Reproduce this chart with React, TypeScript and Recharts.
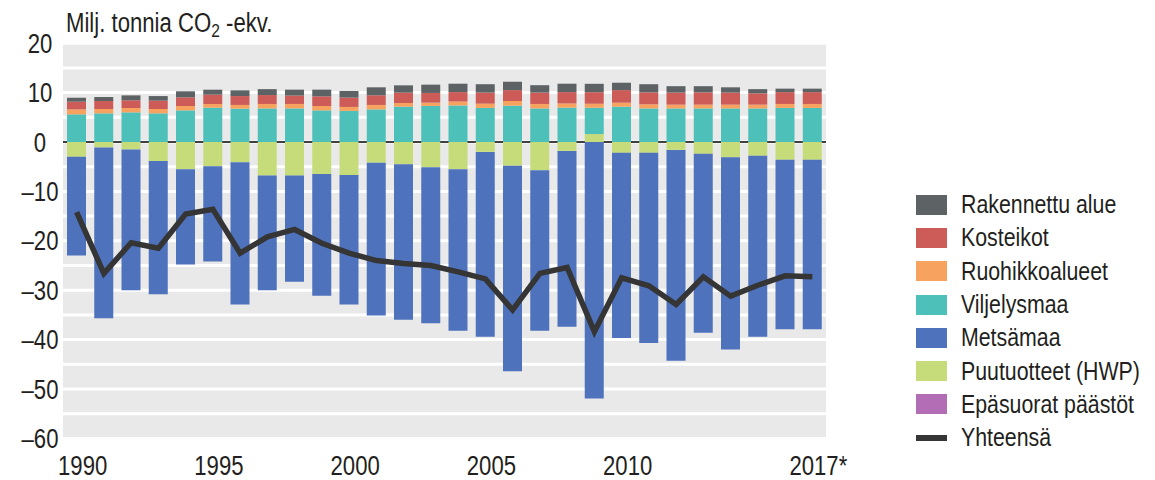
import React from "react";
import {
  ComposedChart,
  Bar,
  Line,
  XAxis,
  YAxis,
  CartesianGrid,
  Legend,
} from "recharts";

const years = [
  1990, 1991, 1992, 1993, 1994, 1995, 1996, 1997, 1998, 1999, 2000, 2001, 2002,
  2003, 2004, 2005, 2006, 2007, 2008, 2009, 2010, 2011, 2012, 2013, 2014, 2015,
  2016, 2017,
];

const rakennettu = [
  0.8, 0.8, 1.0, 0.93, 1.22, 1.0, 1.15, 1.2, 1.2, 1.36, 1.33, 1.62, 1.48, 1.68,
  1.7, 1.7, 1.7, 1.5, 1.7, 1.7, 1.5, 1.65, 1.3, 1.25, 1.07, 0.85, 0.7, 0.7,
];
const kosteikot = [
  1.56, 1.62, 1.56, 1.69, 1.75, 1.9, 1.8, 1.8, 1.7, 1.95, 1.89, 1.95, 2.09,
  1.96, 1.9, 2.24, 2.2, 2.3, 2.3, 2.34, 2.54, 2.42, 2.44, 2.49, 2.44, 2.29, 2.4,
  2.4,
];
const ruohikko = [
  1.0, 0.88, 0.88, 0.88, 0.89, 0.74, 0.75, 0.9, 0.9, 0.89, 0.8, 0.9, 0.75, 0.67,
  0.8, 0.86, 0.94, 0.9, 0.85, 0.81, 0.81, 0.83, 0.76, 0.76, 0.76, 0.76, 0.8,
  0.8,
];
const viljelysmaa = [
  5.6, 5.8, 6.0, 5.8, 6.4, 6.95, 6.75, 6.8, 6.8, 6.4, 6.3, 6.6, 7.15, 7.3, 7.4,
  6.9, 7.36, 6.8, 6.95, 5.33, 7.15, 6.8, 6.8, 6.8, 6.8, 6.8, 6.9, 6.9,
];
const metsamaa = [
  -20.0, -34.6, -28.5, -26.95, -19.3, -19.3, -28.8, -23.2, -21.5, -24.6, -26.2,
  -30.9, -31.5, -31.6, -32.7, -37.4, -41.6, -32.5, -35.6, -51.9, -37.5, -38.5,
  -42.7, -36.2, -38.9, -36.6, -34.3, -34.3,
];
const puutuotteet = [
  -3.0, -1.1, -1.5, -3.85, -5.5, -4.9, -4.1, -6.8, -6.8, -6.5, -6.7, -4.2, -4.5,
  -5.1, -5.5, -2.0, -4.8, -5.7, -1.8, 1.6, -2.2, -2.2, -1.6, -2.4, -3.1, -2.8,
  -3.6, -3.6,
];
const epasuorat = [
  0, 0, 0, 0, 0, 0, 0, 0, 0, 0, 0, 0, 0, 0, 0, 0, 0, 0, 0, 0, 0, 0, 0, 0, 0, 0,
  0, 0,
];
const yhteensa = [
  -14.2, -26.6, -20.4, -21.5, -14.6, -13.6, -22.5, -19.2, -17.7, -20.5, -22.5,
  -24.0, -24.6, -25.0, -26.3, -27.7, -34.0, -26.6, -25.4, -38.4, -27.5, -29.1,
  -32.9, -27.3, -31.2, -29.0, -27.1, -27.3,
];

const xTickYears = [1990, 1995, 2000, 2005, 2010, 2017];
const xTickLabels: Record<number, string> = {
  1990: "1990",
  1995: "1995",
  2000: "2000",
  2005: "2005",
  2010: "2010",
  2017: "2017*",
};
const yTicks = [-60, -55, -50, -45, -40, -35, -30, -25, -20, -15, -10, -5, 0, 5, 10, 15, 20];
const Y_MIN = -60;
const Y_MAX = 20;

const data = years.map((y, i) => ({
  year: y,
  rakennettu: rakennettu[i],
  kosteikot: kosteikot[i],
  ruohikko: ruohikko[i],
  viljelysmaa: viljelysmaa[i],
  metsamaa: metsamaa[i],
  puutuotteet: puutuotteet[i],
  epasuorat: epasuorat[i],
  yhteensa: yhteensa[i],
}));

const FONT = "'Liberation Sans', Arial, sans-serif";
const TEXT = "#231f20";
const SX = 0.82;

const legendItems = [
  { name: "Rakennettu alue", color: "#5d6265", type: "rect" },
  { name: "Kosteikot", color: "#cd5b57", type: "rect" },
  { name: "Ruohikkoalueet", color: "#f7a25f", type: "rect" },
  { name: "Viljelysmaa", color: "#4cc0b9", type: "rect" },
  { name: "Metsämaa", color: "#4e72bc", type: "rect" },
  { name: "Puutuotteet (HWP)", color: "#c6dc7b", type: "rect" },
  { name: "Epäsuorat päästöt", color: "#b36db5", type: "rect" },
  { name: "Yhteensä", color: "#353535", type: "line" },
];

const fmt = (v: number) => (v < 0 ? "\u2013" + Math.abs(v) : String(v));

const NarrowText = ({ x, y, children, dy = 0 }: any) => (
  <text
    transform={`translate(${x},${y + dy}) scale(${SX},1)`}
    x={0}
    y={0}
    textAnchor="middle"
    fontFamily={FONT}
    fontSize={27}
    fill={TEXT}
  >
    {children}
  </text>
);

const LeftTick = (props: any) => {
  const { y, payload } = props;
  if (payload.value % 10 !== 0) return null;
  return <NarrowText x={40} y={y} dy={9.5}>{fmt(payload.value)}</NarrowText>;
};

const RightTick = (props: any) => {
  const { y, payload } = props;
  if (payload.value % 10 !== 0) return null;
  return <NarrowText x={866} y={y} dy={9.5}>{fmt(payload.value)}</NarrowText>;
};

const XTick = (props: any) => {
  const { x, y, payload } = props;
  return <NarrowText x={x + 6} y={y} dy={37}>{xTickLabels[payload.value] ?? String(payload.value)}</NarrowText>;
};

const LegendContent = () => (
  <div style={{ fontFamily: FONT, fontSize: 26, color: TEXT }}>
    {legendItems.map((it) => (
      <div key={it.name} style={{ height: 33.3, display: "flex", alignItems: "center", whiteSpace: "nowrap" }}>
        <span
          style={{
            display: "inline-block",
            flexShrink: 0,
            width: 31,
            height: it.type === "line" ? 6 : 20,
            background: it.color,
            marginRight: 14,
          }}
        />
        <span style={{ display: "inline-block", transform: `scaleX(${SX})`, transformOrigin: "left center" }}>
          {it.name}
        </span>
      </div>
    ))}
  </div>
);

const zeroLineGen = (args: any) => {
  const o = args.offset;
  return [o.top + (o.height * Y_MAX) / (Y_MAX - Y_MIN)];
};

export default function App() {
  return (
    <div style={{ position: "absolute", left: 0, top: 0, width: 1155, height: 480, background: "#fff" }}>
      <div
        style={{
          position: "absolute",
          left: 66,
          top: 10,
          fontFamily: FONT,
          fontSize: 27,
          lineHeight: "27px",
          color: TEXT,
          whiteSpace: "nowrap",
          zIndex: 2,
          transform: `scaleX(${SX})`,
          transformOrigin: "left top",
        }}
      >
        Milj. tonnia CO<sub style={{ fontSize: 19, verticalAlign: "-5px", lineHeight: 0 }}>2</sub> -ekv.
      </div>
      <ComposedChart
        width={1155}
        height={480}
        data={data}
        stackOffset="sign"
        margin={{ top: 43.2, right: 249, bottom: 0, left: 0 }}
      >
        <CartesianGrid vertical={false} fill="#e9e9e9" stroke="#ffffff" strokeWidth={3} />
        <CartesianGrid vertical={false} horizontalCoordinatesGenerator={zeroLineGen} stroke="#000000" strokeWidth={1.5} />
        <XAxis
          dataKey="year"
          type="category"
          ticks={xTickYears}
          interval={0}
          tick={<XTick />}
          tickLine={false}
          axisLine={false}
          tickSize={0}
          tickMargin={0}
          height={41.6}
        />
        <YAxis
          yAxisId={0}
          domain={[Y_MIN, Y_MAX]}
          ticks={yTicks}
          interval={0}
          tick={<LeftTick />}
          tickLine={false}
          axisLine={false}
          width={63}
        />
        <YAxis
          yAxisId="r"
          orientation="right"
          domain={[Y_MIN, Y_MAX]}
          ticks={yTicks}
          interval={0}
          tick={<RightTick />}
          tickLine={false}
          axisLine={false}
          width={80}
        />
        <Legend
          layout="vertical"
          align="center"
          verticalAlign="middle"
          content={<LegendContent />}
          wrapperStyle={{ position: "absolute", left: 916, top: 188, width: 239 }}
        />
        <Bar dataKey="puutuotteet" name="Puutuotteet (HWP)" stackId="s" fill="#c6dc7b" barSize={19} isAnimationActive={false} />
        <Bar dataKey="metsamaa" name="Metsämaa" stackId="s" fill="#4e72bc" barSize={19} isAnimationActive={false} />
        <Bar dataKey="viljelysmaa" name="Viljelysmaa" stackId="s" fill="#4cc0b9" barSize={19} isAnimationActive={false} />
        <Bar dataKey="ruohikko" name="Ruohikkoalueet" stackId="s" fill="#f7a25f" barSize={19} isAnimationActive={false} />
        <Bar dataKey="kosteikot" name="Kosteikot" stackId="s" fill="#cd5b57" barSize={19} isAnimationActive={false} />
        <Bar dataKey="rakennettu" name="Rakennettu alue" stackId="s" fill="#5d6265" barSize={19} isAnimationActive={false} />
        <Bar dataKey="epasuorat" name="Epäsuorat päästöt" stackId="s" fill="#b36db5" barSize={19} isAnimationActive={false} />
        <Line
          dataKey="yhteensa"
          name="Yhteensä"
          type="linear"
          stroke="#353535"
          strokeWidth={5.5}
          dot={false}
          activeDot={false}
          isAnimationActive={false}
        />
      </ComposedChart>
    </div>
  );
}
